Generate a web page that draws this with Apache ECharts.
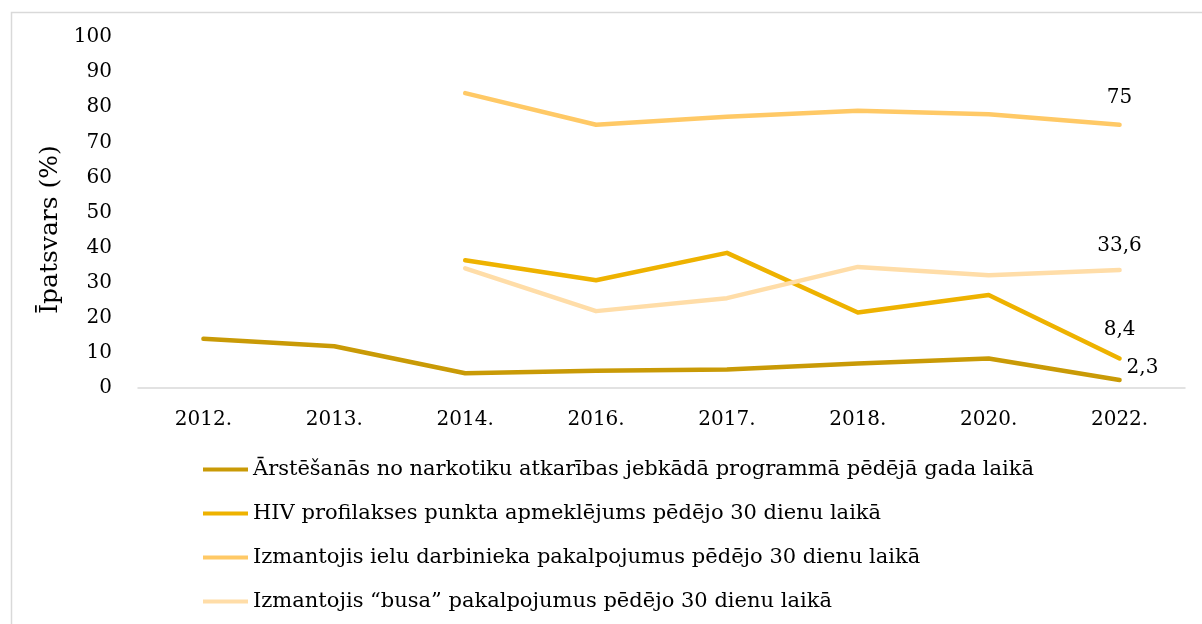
<!DOCTYPE html>
<html>
<head>
<meta charset="utf-8">
<script src="https://cdn.jsdelivr.net/npm/echarts@6/dist/echarts.min.js"></script>
<style>
  html, body { margin: 0; padding: 0; background: #fff; }
  #main { width: 1202px; height: 624px; }
</style>
</head>
<body>
<div id="main"></div>
<script>
// kategorijas (gadi)
const years = ['2012.', '2013.', '2014.', '2016.', '2017.', '2018.', '2020.', '2022.'];

// sēriju nosaukumi
const names = [
  'Ārstēšanās no narkotiku atkarības jebkādā programmā pēdējā gada laikā',
  'HIV profilakses punkta apmeklējums pēdējo 30 dienu laikā',
  'Izmantojis ielu darbinieka pakalpojumus pēdējo 30 dienu laikā',
  'Izmantojis “busa” pakalpojumus pēdējo 30 dienu laikā'
];

// vērtības (%)
const arstesana = [14.0, 11.9, 4.2, 4.9, 5.3, 7.0, 8.4, 2.3];
const hivPunkts = [null, null, 36.4, 30.7, 38.5, 21.5, 26.5, 8.4];
const ieluDarb  = [null, null, 84.0, 75.0, 77.3, 79.0, 78.0, 75];
const busa      = [null, null, 34.1, 21.9, 25.6, 34.5, 32.1, 33.6];

const colors = ['#C99A06', '#EEB200', '#FFC966', '#FFDDA8'];
const FONT = 'DejaVu Serif';

const chart = echarts.init(document.getElementById('main'));

// tikai pēdējam punktam rāda vērtību, ar komatu
const lastLabel = (p) => p.dataIndex === years.length - 1 ? String(p.value).replace('.', ',') : '';

const mkSeries = (name, data, color, width, label) => ({
  name: name,
  type: 'line',
  data: data,
  smooth: false,
  symbol: 'circle',
  symbolSize: 0,
  showSymbol: true,
  connectNulls: false,
  lineStyle: { color: color, width: width, cap: 'round', join: 'round' },
  itemStyle: { color: color },
  label: Object.assign({
    show: true,
    formatter: lastLabel,
    fontFamily: FONT,
    fontSize: 20,
    color: '#000'
  }, label)
});

const option = {
  animation: false,
  backgroundColor: '#fff',
  color: colors,
  textStyle: { fontFamily: FONT },
  graphic: [{
    type: 'rect',
    left: 9, top: 10,
    shape: { width: 1200, height: 620 },
    style: { fill: 'none', stroke: '#d9d9d9', lineWidth: 1.5 },
    silent: true
  }],
  grid: { left: 138, right: 17, top: 37, bottom: 236 },
  legend: {
    orient: 'vertical',
    left: 198,
    top: 454,
    itemWidth: 45,
    itemHeight: 4,
    itemGap: 23,
    icon: 'rect',
    textStyle: { fontFamily: FONT, fontSize: 21, color: '#000' },
    data: names
  },
  xAxis: {
    type: 'category',
    data: years,
    boundaryGap: true,
    axisLine: { lineStyle: { color: '#d9d9d9', width: 1.5 } },
    axisTick: { show: false },
    axisLabel: { fontFamily: FONT, fontSize: 20, color: '#000', margin: 22 }
  },
  yAxis: {
    type: 'value',
    min: 0,
    max: 100,
    interval: 10,
    name: 'Īpatsvars (%)',
    nameLocation: 'middle',
    nameRotate: 90,
    nameGap: 62,
    nameTextStyle: { fontFamily: FONT, fontSize: 25, color: '#000', padding: [0, 34, 0, 0] },
    axisLine: { show: false },
    axisTick: { show: false },
    splitLine: { show: false },
    axisLabel: { fontFamily: FONT, fontSize: 20, color: '#000', margin: 26 }
  },
  series: [
    mkSeries(names[0], arstesana, colors[0], 4.5, { position: 'right', offset: [2, -12] }),
    mkSeries(names[1], hivPunkts, colors[1], 4.5, { position: 'top', distance: 19 }),
    mkSeries(names[2], ieluDarb, colors[2], 4.5, { position: 'top', distance: 17 }),
    mkSeries(names[3], busa, colors[3], 4.5, { position: 'top', distance: 14 })
  ]
};

chart.setOption(option);
</script>
</body>
</html>
